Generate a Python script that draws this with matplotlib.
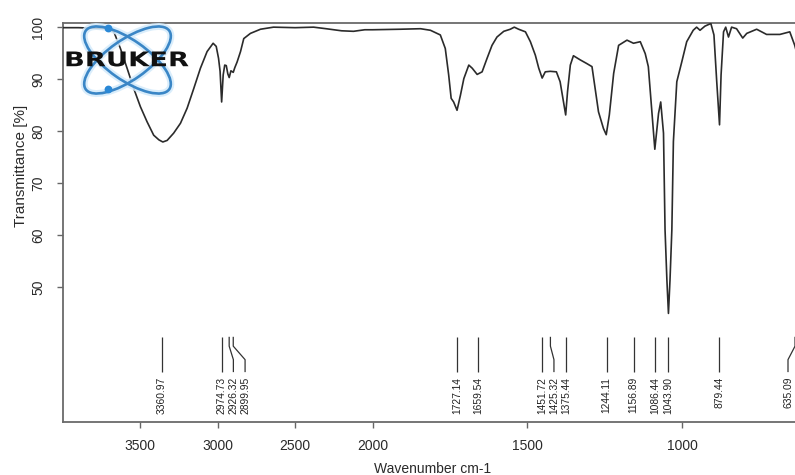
import numpy as np
import matplotlib
matplotlib.use('Agg')
import matplotlib.pyplot as plt
from matplotlib.patches import Ellipse, Circle, PathPatch
from matplotlib.textpath import TextPath
from matplotlib.font_manager import FontProperties
from matplotlib.transforms import Affine2D

# IR spectrum (wavenumber in cm-1, transmittance in %)
wavenumber = [4000, 3900, 3800, 3700, 3670, 3629, 3586, 3543, 3500, 3457,
              3414, 3380, 3355, 3327, 3285, 3241, 3198, 3155, 3112, 3069,
              3030, 3010, 2995, 2985, 2975, 2965, 2955, 2945, 2935, 2926,
              2915, 2905, 2900, 2890, 2875, 2853, 2832, 2789, 2724, 2640,
              2500, 2381, 2300, 2200, 2123, 2050, 2000, 1910, 1845, 1813,
              1781, 1765, 1754, 1746, 1738, 1727, 1716, 1705, 1689, 1678,
              1662, 1646, 1630, 1614, 1598, 1576, 1555, 1542, 1528, 1506,
              1490, 1474, 1463, 1452, 1442, 1426, 1406, 1394, 1383, 1376,
              1370, 1361, 1351, 1329, 1308, 1291, 1281, 1270, 1254, 1245,
              1235, 1221, 1205, 1178, 1157, 1135, 1119, 1109, 1098, 1088,
              1076, 1069, 1060, 1055, 1049, 1044, 1039, 1033, 1028, 1017,
              1001, 985, 964, 953, 942, 926, 907, 897, 888, 879,
              874, 866, 859, 850, 840, 824, 804, 791, 759, 727,
              684, 652, 636, 625]
transmittance = [99.9, 99.9, 99.8, 99.7, 99.0, 95.9, 92.1, 88.2, 84.7, 81.8,
                 79.2, 78.3, 77.9, 78.2, 79.6, 81.5, 84.4, 88.2, 92.1, 95.3,
                 96.9, 96.3, 94.0, 91.5, 85.6, 90.8, 92.7, 92.6, 91.0, 90.3,
                 91.6, 91.4, 91.3, 92.2, 93.3, 95.3, 97.8, 98.8, 99.6, 100.0,
                 99.9, 100.0, 99.7, 99.3, 99.2, 99.5, 99.5, 99.6, 99.7, 99.4,
                 98.5, 95.9, 90.8, 86.3, 85.6, 84.0, 86.9, 90.1, 92.7, 92.1,
                 90.9, 91.4, 94.0, 96.5, 98.1, 99.2, 99.6, 100.0, 99.6, 99.1,
                 97.2, 94.6, 92.1, 90.2, 91.4, 91.5, 91.4, 89.5, 85.6, 83.1,
                 87.6, 92.7, 94.5, 93.7, 93.0, 92.4, 88.2, 83.7, 80.5, 79.3,
                 83.1, 91.1, 96.5, 97.5, 96.9, 97.2, 94.9, 92.4, 84.0, 76.5,
                 83.4, 85.6, 79.6, 61.0, 51.3, 44.9, 51.3, 61.0, 78.0, 89.5,
                 93.3, 97.2, 99.4, 100.0, 99.4, 100.2, 100.7, 98.5, 89.5, 81.2,
                 90.8, 99.1, 100.0, 98.1, 100.0, 99.7, 97.9, 98.8, 99.6, 98.6,
                 98.6, 99.1, 96.5, 94.0]

peaks = [3360.97, 2974.73, 2926.32, 2899.95, 1727.14, 1659.54, 1451.72,
         1425.32, 1375.44, 1244.11, 1156.89, 1086.44, 1043.90, 879.44, 635.09]

x_ticks = [3500, 3000, 2500, 2000, 1500, 1000]
y_ticks = [50, 60, 70, 80, 90, 100]

plt.rcParams['font.family'] = ['Liberation Sans', 'DejaVu Sans']

W, H = 795, 475
fig = plt.figure(figsize=(W / 100, H / 100), dpi=100)
px = Affine2D().scale(1 / W, 1 / H) + fig.transFigure   # picture pixels, y up


def box(left, top, right, bottom):
    return [left / W, 1 - bottom / H, (right - left) / W, (bottom - top) / H]


ax = fig.add_axes(box(63, 23, 800, 422))


# the region above 2000 cm-1 is drawn at half scale
def fwd(w):
    w = np.asarray(w, dtype=float)
    return np.where(w > 2000, 2000 + (w - 2000) / 2, w)


def inv(u):
    u = np.asarray(u, dtype=float)
    return np.where(u > 2000, 2000 + (u - 2000) * 2, u)


ax.set_xscale('function', functions=(fwd, inv))
ax.set_xlim(4000, 619)
ax.set_ylim(24, 100.8)

ax.plot(wavenumber, transmittance, color='#2b2b2b', lw=1.2, zorder=3)

ax.set_xticks(x_ticks)
ax.set_xticklabels([str(t) for t in x_ticks])
ax.set_yticks(y_ticks)
ax.minorticks_off()
ax.tick_params(direction='out', length=4.5, width=1, color='#666666',
               labelsize=10, labelcolor='#2a2a2a')
ax.tick_params(axis='x', pad=7.5)
ax.tick_params(axis='y', pad=8.5, labelrotation=90)
for lab in ax.get_yticklabels():
    lab.set_va('center')
for s in ax.spines.values():
    s.set_color('#6a6a6a')
    s.set_linewidth(1.3)

# peak labels, spread so neighbouring texts do not overlap
to_px = ax.transData
from_px = ax.transData.inverted()
peak_px = [to_px.transform((p, 50))[0] for p in peaks]
label_px = []
for xp in peak_px:
    if label_px:
        xp = max(xp, label_px[-1] + 11.7)
    label_px.append(min(xp, W - 7))
for p, xp, xl in zip(peaks, peak_px, label_px):
    wl = from_px.transform((xl, 0))[0]
    ax.plot([p, p, wl, wl], [40.4, 38.6, 36.0, 33.6], color='#333333',
            lw=0.9, solid_capstyle='butt')
    ax.text(wl, 32.7, f'{p:.2f}', rotation=90, ha='center', va='top',
            fontsize=7.4, color='#222222')

fig.text(21 / W, 1 - 166 / H, 'Transmittance [%]', rotation=90,
         ha='center', va='center', fontsize=11, color='#2a2a2a')
fig.text(433 / W, 1 - 473 / H, 'Wavenumber cm-1', ha='center',
         va='baseline', fontsize=10, color='#2a2a2a')

# Bruker logo
cx, cy = 127.5, H - 60
for ang in (35, -35):
    fig.add_artist(Ellipse((cx, cy), 102, 40, angle=ang, transform=px,
                           fill=False, ec='#d3eafb', lw=5.0, alpha=0.85))
for ang in (35, -35):
    fig.add_artist(Ellipse((cx, cy), 102, 40, angle=ang, transform=px,
                           fill=False, ec='#3a86c6', lw=1.9))
for dx, dy in ((108.5, H - 28.5), (108.5, H - 89.5)):
    fig.add_artist(Circle((dx, dy), 3.9, transform=px, fc='#2a88d6',
                          ec='none'))
tp = TextPath((0, 0), 'BRUKER', size=1,
              prop=FontProperties(family='DejaVu Sans', weight='bold'))
ext = tp.get_extents()
sx = (188.5 - 66.5) / ext.width
sy = (66.5 - 51.5) / ext.height
tr = (Affine2D().translate(-ext.x0, -ext.y0).scale(sx, sy)
      .translate(66.5, H - 66.5) + px)
fig.add_artist(PathPatch(tp, transform=tr, fc='#111111', ec='none'))

fig.savefig('out.png', dpi=100)
